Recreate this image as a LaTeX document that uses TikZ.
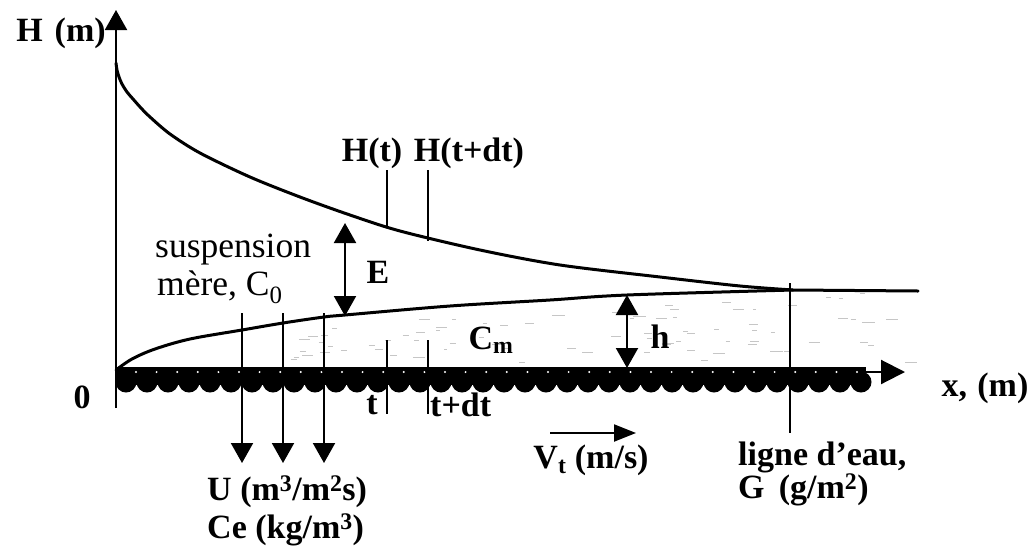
\documentclass[tikz,border=0pt]{standalone}
\usepackage{fontspec}
\setmainfont{Liberation Serif}
\usetikzlibrary{arrows.meta}
\begin{document}
\begin{tikzpicture}[x=1pt,y=-1pt,
  lbl/.style={font=\fontsize{34}{38}\selectfont\bfseries, inner sep=0pt},
  rlbl/.style={font=\fontsize{35.5}{38}\selectfont, inner sep=0pt},
  curve/.style={line width=3pt, line cap=round},
  vline/.style={line width=2.1pt},
  tri/.style={-{Triangle[width=22pt,length=20pt]}},
  dbl/.style={{Triangle[width=22pt,length=20pt]}-{Triangle[width=22pt,length=20pt]}},
  stip/.style={gray!45, line width=0.9pt},
]
\useasboundingbox (0,0) rectangle (1032,552);

% stipple texture of the deposit
\pgfmathsetseed{11}
\foreach \k in {1,...,80}{
  \pgfmathsetmacro\xx{290+rnd*625}
  \pgfmathsetmacro\ymin{324-(\xx-290)*0.055}
  \pgfmathsetmacro\yy{\ymin+rnd*(364-\ymin)}
  \pgfmathsetmacro\ll{3+rnd*10}
  \draw[stip] (\xx,\yy) -- ++(\ll,0);
}

% coordinates
\coordinate (ybot) at (116,408);
\coordinate (ytop) at (116,10);
\coordinate (xo) at (116,372);
\coordinate (xend) at (905,372);

% axes
\draw[vline, tri] (ybot) -- (ytop);
\draw[vline, -{Triangle[width=24pt,length=24pt]}] (xo) -- (xend);

% deposit band (black, scalloped bottom, white dots)
\fill (116,367) rectangle (866,385);
\foreach \i in {0,...,35} \fill (126+\i*21,382) circle (10.5);
\foreach \i in {0,...,35} \fill[white] (136+\i*20.6,372) circle (1.1);

% upper curve H
\draw[curve] plot[smooth, tension=0.5] coordinates {(116,63) (117,70) (119,77) (122,84) (127,92) (133,99) (141,108) (150,117) (170,134) (200,153) (250,177) (300,197) (350,215) (400,231) (480,250) (560,265) (660,277) (740,286) (793,290)} -- (918,291);
% lower curve h
\draw[curve] plot[smooth, tension=0.55] coordinates {(116,370) (132,359) (155,349) (190,339) (242,330) (283,323) (324,317) (345,315) (450,306) (550,300) (627,295) (793,290)};

% H(t), H(t+dt) markers
\coordinate (ht1) at (387,170); \coordinate (ht1b) at (387,226);
\coordinate (ht2) at (428,170); \coordinate (ht2b) at (428,241);
\draw[vline] (ht1) -- (ht1b);
\draw[vline] (ht2) -- (ht2b);
% t, t+dt markers
\coordinate (t1) at (387,340); \coordinate (t1b) at (387,414);
\coordinate (t2) at (428,340); \coordinate (t2b) at (428,414);
\draw[vline] (t1) -- (t1b);
\draw[vline] (t2) -- (t2b);

% E and h arrows
\coordinate (e1) at (345,223); \coordinate (e2) at (345,316);
\draw[vline, dbl] (e1) -- (e2);
\coordinate (h1) at (627,295); \coordinate (h2) at (627,368);
\draw[vline, dbl] (h1) -- (h2);

% U arrows
\foreach \xx/\n in {242/a,283/b,324/c}{
  \coordinate (u\n) at (\xx,313); \coordinate (u\n e) at (\xx,463);
  \draw[vline, tri] (u\n) -- (u\n e);
}

% ligne d'eau line
\coordinate (g1) at (790,283); \coordinate (g2) at (790,433);
\draw[vline] (g1) -- (g2);

% Vt arrow
\coordinate (v1) at (550,433); \coordinate (v2) at (636,433);
\draw[vline, -{Triangle[width=17pt,length=22pt]}] (v1) -- (v2);

% labels
\node[lbl] (Hm) at (61,33) {H\hspace{0.35em}(m)};
\node[lbl] (Ht) at (372,153) {H(t)};
\node[lbl] (Htdt) at (469,153) {H(t+dt)};
\node[rlbl, anchor=west] (susp) at (155,250) {suspension};
\node[rlbl, anchor=west] (mere) at (157,287) {mère, C\textsubscript{0}};
\node[lbl] (E) at (378,272) {E};
\node[lbl] (Cm) at (491,340) {C\textsubscript{m}};
\node[lbl] (h) at (660,337) {h};
\node[lbl] (zero) at (82,397) {0};
\node[lbl] (t) at (372,405) {t};
\node[lbl, anchor=west] (tdt) at (430,405) {t+dt};
\node[lbl] (x) at (985,388) {x,\hspace{0.3em}(m)};
\node[lbl, anchor=west] (U) at (207,492) {U (m\textsuperscript{3}/m\textsuperscript{2}s)};
\node[lbl, anchor=west] (Ce) at (207,530) {Ce (kg/m\textsuperscript{3})};
\node[lbl] (Vt) at (591,460) {V\textsubscript{t} (m/s)};
\node[lbl, anchor=west] (ligne) at (738,457) {ligne d’eau,};
\node[lbl, anchor=west] (G) at (738,490) {G\, (g/m\textsuperscript{2})};
\end{tikzpicture}
\end{document}
